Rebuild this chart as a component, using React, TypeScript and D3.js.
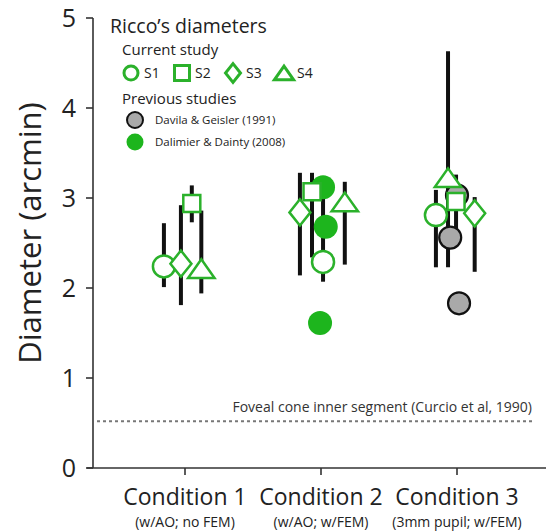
import * as d3 from "d3";

// categories
const conditions = ["Condition 1", "Condition 2", "Condition 3"];
const conditionNotes = ["(w/AO; no FEM)", "(w/AO; w/FEM)", "(3mm pupil; w/FEM)"];
const yTicks = [0, 1, 2, 3, 4, 5];

// current study: mean, error range and horizontal jitter (fraction of a category step)
const subjects = ["S1", "S2", "S3", "S4"];
const s1Mean = [2.24, 2.29, 2.81];
const s1Low = [2.01, 2.07, 2.23];
const s1High = [2.72, 3.12, 3.09];
const s1Jitter = [-0.155, 0.015, -0.155];

const s2Mean = [2.94, 3.07, 2.96];
const s2Low = [2.73, 2.34, 2.62];
const s2High = [3.14, 3.28, 3.26];
const s2Jitter = [0.05, -0.066, -0.007];

const s3Mean = [2.27, 2.84, 2.83];
const s3Low = [1.81, 2.14, 2.18];
const s3High = [2.92, 3.28, 3.01];
const s3Jitter = [-0.03, -0.155, 0.13];

const s4Mean = [2.2, 2.94, 3.21];
const s4Low = [1.94, 2.26, 2.23];
const s4High = [2.86, 3.18, 4.63];
const s4Jitter = [0.12, 0.175, -0.066];

// previous studies
const davilaCondition = "Condition 3";
const davilaValues = [3.03, 2.56, 1.83];
const davilaJitter = [0, -0.05, 0.015];
const dalimierCondition = "Condition 2";
const dalimierValues = [3.12, 2.68, 1.61];
const dalimierJitter = [0.015, 0.035, -0.007];

const curcioValue = 0.52;

const GREEN = "#2bb12b";
const GREEN_FILL = "#1db51d";
const FONT = "'Open Sans', sans-serif";

function marker(shape: string, s: number) {
  // s = half size
  if (shape === "circle") return d3.arc()({ innerRadius: 0, outerRadius: s, startAngle: 0, endAngle: 2 * Math.PI }) as string;
  if (shape === "square") return `M${-s},${-s}H${s}V${s}H${-s}Z`;
  if (shape === "diamond") {
    const h = s * 1.25;
    return `M0,${-h}L${s},0L0,${h}L${-s},0Z`;
  }
  const h = s * 0.85;
  return `M0,${-h * 1.15}L${s * 1.2},${h * 0.85}L${-s * 1.2},${h * 0.85}Z`;
}

export default function App() {
  const width = 546;
  const height = 531;

  const x = d3.scalePoint<string>().domain(conditions).range([185, 457]);
  const y = d3.scaleLinear().domain([0, 5]).range([468, 18]);
  const xAt = (c: string, j: number) => (x(c) as number) + j * x.step();

  const series = [
    { name: subjects[0], shape: "circle", size: 11, mean: s1Mean, low: s1Low, high: s1High, jit: s1Jitter },
    { name: subjects[1], shape: "square", size: 8.5, mean: s2Mean, low: s2Low, high: s2High, jit: s2Jitter },
    { name: subjects[2], shape: "diamond", size: 10.5, mean: s3Mean, low: s3Low, high: s3High, jit: s3Jitter },
    { name: subjects[3], shape: "triangle", size: 11, mean: s4Mean, low: s4Low, high: s4High, jit: s4Jitter },
  ];

  const axisColor = "#333";
  const x0 = 93;
  const yBase = y(0);

  return (
    <svg width={width} height={height} style={{ position: "absolute", left: 0, top: 0 }}>
      <rect width={width} height={height} fill="#fff" />

      {/* y axis */}
      <line x1={x0} x2={x0} y1={y(5)} y2={yBase} stroke={axisColor} strokeWidth={1.6} />
      {yTicks.map((t) => (
        <g key={t}>
          <line x1={x0 - 7} x2={x0} y1={y(t)} y2={y(t)} stroke={axisColor} strokeWidth={1.6} />
          <text x={x0 - 17} y={y(t)} dy="0.36em" textAnchor="end" fontSize={25} fontFamily={FONT} fill="#222">
            {t}
          </text>
        </g>
      ))}
      <text
        transform={`translate(41,${(y(5) + yBase) / 2 - 10}) rotate(-90)`}
        textAnchor="middle"
        fontSize={31}
        fontFamily={FONT}
        fill="#222"
      >
        Diameter (arcmin)
      </text>

      {/* x axis */}
      <line x1={x0 - 6} x2={width} y1={yBase} y2={yBase} stroke={axisColor} strokeWidth={1.6} />
      {conditions.map((c, i) => (
        <g key={c}>
          <line x1={x(c)} x2={x(c)} y1={yBase} y2={yBase + 7} stroke={axisColor} strokeWidth={1.6} />
          <text x={x(c)} y={505} textAnchor="middle" fontSize={23} fontFamily={FONT} fill="#222">
            {c}
          </text>
          <text x={x(c)} y={527} textAnchor="middle" fontSize={14} fontFamily={FONT} fill="#222">
            {conditionNotes[i]}
          </text>
        </g>
      ))}

      {/* reference line */}
      <line
        x1={x0 + 4}
        x2={532}
        y1={y(curcioValue)}
        y2={y(curcioValue)}
        stroke="#777"
        strokeWidth={2}
        strokeDasharray="3,3"
      />
      <text x={532} y={y(curcioValue) - 9} textAnchor="end" fontSize={14} fontFamily={FONT} fill="#333">
        Foveal cone inner segment (Curcio et al, 1990)
      </text>

      {/* error bars */}
      {series.map((s) =>
        conditions.map((c, i) => (
          <line
            key={s.name + c}
            x1={xAt(c, s.jit[i])}
            x2={xAt(c, s.jit[i])}
            y1={y(s.high[i])}
            y2={y(s.low[i])}
            stroke="#111"
            strokeWidth={4}
          />
        ))
      )}

      {/* previous studies */}
      {davilaValues.map((v, i) => (
        <circle
          key={"dav" + i}
          cx={xAt(davilaCondition, davilaJitter[i])}
          cy={y(v)}
          r={11}
          fill="#a9a9a9"
          stroke="#111"
          strokeWidth={2.2}
        />
      ))}
      {dalimierValues.map((v, i) => (
        <circle key={"dal" + i} cx={xAt(dalimierCondition, dalimierJitter[i])} cy={y(v)} r={12} fill={GREEN_FILL} />
      ))}

      {/* current study markers */}
      {series.map((s) =>
        conditions.map((c, i) => (
          <path
            key={"m" + s.name + c}
            transform={`translate(${xAt(c, s.jit[i])},${y(s.mean[i])})`}
            d={marker(s.shape, s.size)}
            fill="#fff"
            stroke={GREEN}
            strokeWidth={2.5}
          />
        ))
      )}

      {/* legend */}
      <g fontFamily={FONT} fill="#222">
        <text x={110} y={33} fontSize={19.5}>Ricco’s diameters</text>
        <text x={122} y={55} fontSize={15}>Current study</text>
        {series.map((s, i) => (
          <g key={"leg" + s.name} transform={`translate(${131 + i * 51},73)`}>
            <path
              d={marker(s.shape, s.shape === "circle" ? 7 : s.shape === "triangle" ? 8 : 7.5)}
              transform={s.shape === "triangle" ? "translate(0,1)" : undefined}
              fill="#fff"
              stroke={GREEN}
              strokeWidth={3}
            />
            <text x={13} y={0} dy="0.35em" fontSize={14}>
              {s.name}
            </text>
          </g>
        ))}
        <text x={122} y={104} fontSize={15}>Previous studies</text>
        <circle cx={135} cy={120} r={8} fill="#a9a9a9" stroke="#111" strokeWidth={2} />
        <text x={155} y={120} dy="0.35em" fontSize={11.5}>Davila &amp; Geisler (1991)</text>
        <circle cx={135} cy={142} r={8.5} fill={GREEN_FILL} />
        <text x={155} y={142} dy="0.35em" fontSize={11.5}>Dalimier &amp; Dainty (2008)</text>
      </g>
    </svg>
  );
}
